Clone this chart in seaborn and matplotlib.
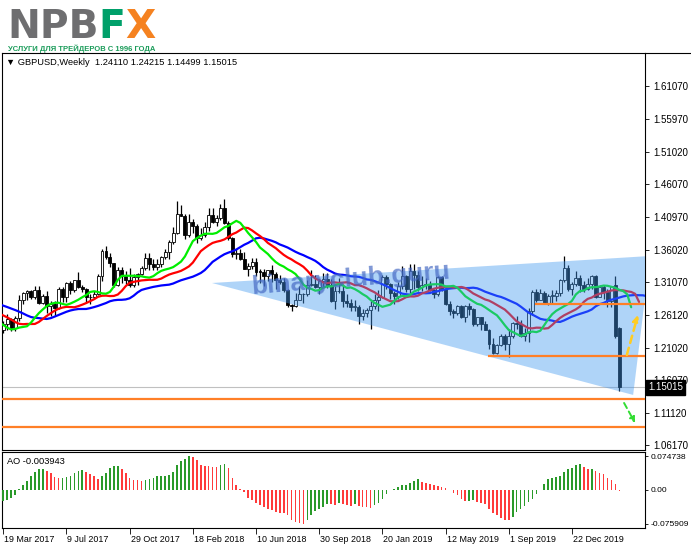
import numpy as np
import pandas as pd
import matplotlib
matplotlib.use("Agg")
import matplotlib.pyplot as plt
import seaborn as sns
from matplotlib.patches import Polygon
from matplotlib.lines import Line2D
import matplotlib.transforms as mtransforms

# ---------------- data ----------------
week_start = "2017-03-19"
n_weeks = 157
dates = pd.date_range(week_start, periods=n_weeks, freq="7D")

opens = [1.2370, 1.2470, 1.2550, 1.2410, 1.2560, 1.2830, 1.2945, 1.2970, 1.2885, 1.2995,
         1.2785, 1.2890, 1.2745, 1.2780, 1.2720, 1.3010, 1.2880, 1.3095, 1.2995, 1.3135,
         1.3040, 1.3010, 1.2875, 1.2880, 1.2925, 1.3200, 1.3590, 1.3495, 1.3395, 1.3065,
         1.3290, 1.3195, 1.3135, 1.3060, 1.3190, 1.3240, 1.3330, 1.3475, 1.3380, 1.3340,
         1.3380, 1.3500, 1.3565, 1.3720, 1.3860, 1.4150, 1.4125, 1.3825, 1.4020, 1.3970,
         1.3790, 1.3830, 1.3950, 1.4135, 1.4020, 1.4090, 1.4240, 1.4010, 1.3780, 1.3545,
         1.3550, 1.3465, 1.3310, 1.3360, 1.3410, 1.3270, 1.3265, 1.3200, 1.3290, 1.3230,
         1.3140, 1.3115, 1.2995, 1.2760, 1.2745, 1.2840, 1.2920, 1.2920, 1.3070, 1.3075,
         1.3030, 1.3125, 1.3150, 1.3060, 1.2825, 1.2970, 1.2975, 1.2825, 1.2790, 1.2730,
         1.2730, 1.2585, 1.2640, 1.2680, 1.2740, 1.2835, 1.2885, 1.3190, 1.3075, 1.2940,
         1.2895, 1.3050, 1.3200, 1.3005, 1.3285, 1.3210, 1.3030, 1.3070, 1.3080, 1.2990,
         1.2925, 1.3185, 1.3000, 1.2780, 1.2665, 1.2630, 1.2740, 1.2580, 1.2740, 1.2695,
         1.2470, 1.2570, 1.2470, 1.2375, 1.2165, 1.2030, 1.2150, 1.2280, 1.2160, 1.2290,
         1.2480, 1.2470, 1.2290, 1.2330, 1.2670, 1.2960, 1.2830, 1.2940, 1.2780, 1.2900,
         1.2900, 1.2935, 1.3140, 1.3330, 1.3010, 1.3080, 1.3170, 1.3070, 1.3010, 1.3080,
         1.3200, 1.2880, 1.3040, 1.2960, 1.2820, 1.3060, 1.24110]

highs = [1.2510, 1.2615, 1.2555, 1.2590, 1.2905, 1.2950, 1.2990, 1.2990, 1.3045, 1.3045,
         1.2930, 1.2975, 1.2815, 1.2815, 1.3030, 1.3030, 1.3115, 1.3125, 1.3145, 1.3270,
         1.3065, 1.3020, 1.2920, 1.2980, 1.3225, 1.3615, 1.3655, 1.3550, 1.3405, 1.3340,
         1.3335, 1.3285, 1.3320, 1.3225, 1.3245, 1.3360, 1.3550, 1.3550, 1.3460, 1.3455,
         1.3505, 1.3615, 1.3745, 1.3945, 1.4345, 1.4285, 1.4150, 1.4145, 1.4070, 1.4000,
         1.3930, 1.4030, 1.4245, 1.4245, 1.4130, 1.4300, 1.4377, 1.4040, 1.3800, 1.3620,
         1.3610, 1.3570, 1.3395, 1.3475, 1.3475, 1.3315, 1.3315, 1.3290, 1.3365, 1.3270,
         1.3215, 1.3175, 1.3005, 1.2780, 1.2935, 1.3045, 1.2945, 1.3140, 1.3300, 1.3215,
         1.3150, 1.3255, 1.3255, 1.3150, 1.3045, 1.3175, 1.3075, 1.2930, 1.2850, 1.2840,
         1.2765, 1.2700, 1.2710, 1.2815, 1.2930, 1.2990, 1.3215, 1.3215, 1.3100, 1.2980,
         1.3110, 1.3350, 1.3210, 1.3380, 1.3380, 1.3275, 1.3205, 1.3165, 1.3120, 1.3005,
         1.3195, 1.3195, 1.3040, 1.2815, 1.2690, 1.2765, 1.2760, 1.2760, 1.2785, 1.2710,
         1.2580, 1.2575, 1.2520, 1.2390, 1.2250, 1.2160, 1.2310, 1.2310, 1.2385, 1.2505,
         1.2585, 1.2530, 1.2410, 1.2710, 1.2990, 1.3010, 1.3010, 1.2975, 1.2925, 1.2990,
         1.2985, 1.3155, 1.3515, 1.3375, 1.3115, 1.3285, 1.3210, 1.3120, 1.3175, 1.3210,
         1.3210, 1.3070, 1.3070, 1.3010, 1.3055, 1.3200, 1.24215]

lows = [1.2330, 1.2380, 1.2365, 1.2365, 1.2515, 1.2775, 1.2840, 1.2845, 1.2855, 1.2770,
        1.2770, 1.2635, 1.2590, 1.2590, 1.2695, 1.2810, 1.2810, 1.2930, 1.2950, 1.3020,
        1.2955, 1.2810, 1.2775, 1.2845, 1.2910, 1.3125, 1.3455, 1.3340, 1.3030, 1.3055,
        1.3090, 1.3080, 1.3035, 1.3040, 1.3060, 1.3215, 1.3300, 1.3300, 1.3300, 1.3300,
        1.3340, 1.3460, 1.3455, 1.3690, 1.3840, 1.4115, 1.3765, 1.3800, 1.3855, 1.3710,
        1.3745, 1.3800, 1.3890, 1.4010, 1.3965, 1.4055, 1.4000, 1.3750, 1.3485, 1.3460,
        1.3445, 1.3305, 1.3205, 1.3305, 1.3205, 1.3100, 1.3050, 1.3130, 1.3105, 1.3010,
        1.3080, 1.2955, 1.2725, 1.2660, 1.2725, 1.2830, 1.2785, 1.2900, 1.3045, 1.3025,
        1.2920, 1.3030, 1.3020, 1.2800, 1.2695, 1.2945, 1.2725, 1.2725, 1.2660, 1.2660,
        1.2475, 1.2530, 1.2580, 1.2395, 1.2695, 1.2670, 1.2865, 1.3000, 1.2850, 1.2775,
        1.2855, 1.3010, 1.2960, 1.2945, 1.3005, 1.2980, 1.2975, 1.3000, 1.2965, 1.2865,
        1.2900, 1.2965, 1.2765, 1.2605, 1.2560, 1.2610, 1.2560, 1.2505, 1.2610, 1.2440,
        1.2440, 1.2380, 1.2370, 1.2080, 1.2015, 1.2015, 1.2135, 1.2070, 1.1960, 1.2250,
        1.2385, 1.2270, 1.2205, 1.2195, 1.2600, 1.2805, 1.2830, 1.2770, 1.2765, 1.2770,
        1.2820, 1.2895, 1.3110, 1.2975, 1.2905, 1.3050, 1.2955, 1.2955, 1.2990, 1.3010,
        1.2870, 1.2875, 1.2850, 1.2725, 1.2725, 1.2255, 1.14499]

closes = [1.2470, 1.2550, 1.2410, 1.2560, 1.2830, 1.2945, 1.2970, 1.2885, 1.2995, 1.2785,
          1.2890, 1.2745, 1.2780, 1.2720, 1.3010, 1.2880, 1.3095, 1.2995, 1.3135, 1.3040,
          1.3010, 1.2875, 1.2880, 1.2925, 1.3200, 1.3590, 1.3495, 1.3395, 1.3065, 1.3290,
          1.3195, 1.3135, 1.3060, 1.3190, 1.3240, 1.3330, 1.3475, 1.3380, 1.3340, 1.3380,
          1.3500, 1.3565, 1.3720, 1.3860, 1.4150, 1.4125, 1.3825, 1.4020, 1.3970, 1.3790,
          1.3830, 1.3950, 1.4135, 1.4020, 1.4090, 1.4240, 1.4010, 1.3780, 1.3545, 1.3550,
          1.3465, 1.3310, 1.3360, 1.3410, 1.3270, 1.3265, 1.3200, 1.3290, 1.3230, 1.3140,
          1.3115, 1.2995, 1.2760, 1.2745, 1.2840, 1.2920, 1.2920, 1.3070, 1.3075, 1.3030,
          1.3125, 1.3150, 1.3060, 1.2825, 1.2970, 1.2975, 1.2825, 1.2790, 1.2730, 1.2730,
          1.2585, 1.2640, 1.2680, 1.2740, 1.2835, 1.2885, 1.3190, 1.3075, 1.2940, 1.2895,
          1.3050, 1.3200, 1.3005, 1.3285, 1.3210, 1.3030, 1.3070, 1.3080, 1.2990, 1.2925,
          1.3185, 1.3000, 1.2780, 1.2665, 1.2630, 1.2740, 1.2580, 1.2740, 1.2695, 1.2470,
          1.2570, 1.2470, 1.2375, 1.2165, 1.2030, 1.2150, 1.2280, 1.2160, 1.2290, 1.2480,
          1.2470, 1.2290, 1.2330, 1.2670, 1.2960, 1.2830, 1.2940, 1.2780, 1.2900, 1.2900,
          1.2935, 1.3140, 1.3330, 1.3010, 1.3080, 1.3170, 1.3070, 1.3010, 1.3080, 1.3200,
          1.2880, 1.3040, 1.2960, 1.2820, 1.3045, 1.2280, 1.15015]

# weekly median prices before the visible window (warm-up of the Alligator lines)
pre_median = [1.312, 1.318, 1.326, 1.318, 1.305, 1.298, 1.270, 1.262, 1.268, 1.270,
              1.274, 1.278, 1.272, 1.268, 1.275, 1.280, 1.276, 1.266, 1.262, 1.258,
              1.254, 1.256, 1.250, 1.246, 1.244, 1.240, 1.236, 1.230, 1.224, 1.228]

ao_values = [-0.0250, -0.0220, -0.0180, -0.0130, 0.0005, 0.0097, 0.0187, 0.0299, 0.0396, 0.0456,
             0.0458, 0.0418, 0.0381, 0.0284, 0.0261, 0.0263, 0.0276, 0.0306, 0.0366, 0.0418,
             0.0433, 0.0396, 0.0344, 0.0299, 0.0247, 0.0306, 0.0381, 0.0493, 0.0538, 0.0540,
             0.0471, 0.0366, 0.0269, 0.0224, 0.0209, 0.0187, 0.0209, 0.0239, 0.0261, 0.0299,
             0.0314, 0.0316, 0.0329, 0.0396, 0.0545, 0.0642, 0.0695, 0.074738, 0.0735, 0.0657,
             0.0560, 0.0523, 0.0520, 0.0518, 0.0515, 0.0560, 0.0565, 0.0493, 0.0260, 0.0105,
             0.0022, -0.0052, -0.0180, -0.0224, -0.0300, -0.0350, -0.0396, -0.0426, -0.0448, -0.0508,
             -0.0515, -0.0530, -0.0575, -0.0687, -0.0725, -0.0740, -0.075909, -0.0687, -0.0575, -0.0478,
             -0.0440, -0.0380, -0.0320, -0.0330, -0.0350, -0.0290, -0.0330, -0.0350, -0.0355, -0.0330,
             -0.0370, -0.0390, -0.0395, -0.0400, -0.0350, -0.0290, -0.0200, -0.0100, -0.0003, 0.0020,
             0.0070, 0.0100, 0.0105, 0.0140, 0.0190, 0.0230, 0.0180, 0.0160, 0.0130, 0.0100,
             0.0075, 0.0050, 0.0035, -0.0010, -0.0075, -0.0130, -0.0200, -0.0260, -0.0250, -0.0240,
             -0.0280, -0.0300, -0.0330, -0.0430, -0.0520, -0.0575, -0.0630, -0.0670, -0.0680, -0.0610,
             -0.0500, -0.0430, -0.0370, -0.0280, -0.0200, -0.0100, -0.0005, 0.0120, 0.0230, 0.0260,
             0.0280, 0.0310, 0.0400, 0.0460, 0.0490, 0.0550, 0.0570, 0.0500, 0.0460, 0.0465,
             0.0410, 0.0370, 0.0340, 0.0270, 0.0220, 0.0130, -0.003943]

price_ticks = [1.61070, 1.55970, 1.51020, 1.46070, 1.40970, 1.36020,
               1.31070, 1.26120, 1.21020, 1.16070, 1.11120, 1.06170]
ao_ticks = [0.074738, 0.0, -0.075909]
ao_tick_labels = ["0.074738", "0.00", "-0.075909"]
date_tick_dates = ["2017-03-19", "2017-07-09", "2017-10-29", "2018-02-18", "2018-06-10",
                   "2018-09-30", "2019-01-20", "2019-05-12", "2019-09-01", "2019-12-22"]

title_text = "\u25bc GBPUSD,Weekly  1.24110 1.24215 1.14499 1.15015"
ao_label = "AO -0.003943"
last_price = 1.15015
watermark = "binaryclub.guru"
logo_parts = [("NPB", "#6e6e70"), ("F", "#00a06a"), ("X", "#f58220")]
logo_sub = "УСЛУГИ ДЛЯ ТРЕЙДЕРОВ С 1996 ГОДА"

# drawn objects on the chart (bar index, price)
triangle_x = [52.85, 163.8, 159.5]
triangle_y = [1.3095, 1.3508, 1.1383]
level_lines = [(1.2769, 134.6), (1.1974, 122.7), (1.1321, -1.0), (1.0893, -1.0)]
arrow_up = ((157.9, 1.1994), (160.7, 1.2606))
arrow_down = ((157.2, 1.1260), (160.0, 1.0954))

# ---------------- style ----------------
sns.set_theme(style="white")
plt.rcParams["font.family"] = ["Liberation Sans", "DejaVu Sans"]
plt.rcParams["axes.linewidth"] = 0.8

W, H = 691, 549
fig = plt.figure(figsize=(W / 100, H / 100), dpi=100)
fig.patch.set_facecolor("white")


def px_rect(x0, y0, x1, y1):
    return [x0 / W, 1 - y1 / H, (x1 - x0) / W, (y1 - y0) / H]


ax = fig.add_axes(px_rect(2, 53, 645, 450))
ax_ao = fig.add_axes(px_rect(2, 452, 645, 528))
XMIN, XMAX = -0.33, 162.5

for a in (ax, ax_ao):
    a.set_facecolor("white")
    for s in a.spines.values():
        s.set_color("black")
        s.set_linewidth(0.8)
    a.set_xlim(XMIN, XMAX)

# ---------------- candles ----------------
idx = np.arange(n_weeks)
o = np.array(opens)
h = np.array(highs)
l = np.array(lows)
c = np.array(closes)
up = c >= o
ax.vlines(idx, l, h, color="black", lw=0.9, zorder=3)
ax.bar(idx, np.maximum(np.abs(c - o), 0.0006), bottom=np.minimum(o, c), width=0.74,
       color=np.where(up, "white", "black"), edgecolor="black", linewidth=0.6, zorder=3.5)

# ---------------- Alligator ----------------
median = np.concatenate([pre_median, (h + l) / 2])
xs = np.arange(len(median)) - len(pre_median)


def smma(x, n):
    out = np.full(len(x), np.nan)
    out[n - 1] = x[:n].mean()
    for k in range(n, len(x)):
        out[k] = (out[k - 1] * (n - 1) + x[k]) / n
    return out


for period, shift, col in [(13, 8, "#0000ff"), (8, 5, "#ff0000"), (5, 3, "#00ee00")]:
    vals = smma(median, period)
    ok = ~np.isnan(vals)
    sns.lineplot(x=xs[ok] + shift, y=vals[ok], ax=ax, color=col, linewidth=1.6,
                 zorder=4, sort=False)

# ---------------- overlay objects ----------------
ax.add_patch(Polygon(list(zip(triangle_x, triangle_y)), closed=True,
                     facecolor=(66 / 255, 153 / 255, 240 / 255), alpha=0.42,
                     edgecolor="none", zorder=5))
ax.text(88.0, 1.316, watermark, fontsize=19, fontweight="bold", color=(0.26, 0.40, 0.76),
        alpha=0.68, rotation=4.5, rotation_mode="anchor", ha="center", va="center", zorder=6)

for lvl, x0 in level_lines:
    ax.hlines(lvl, x0, XMAX + 2, color="#ff7f27", lw=1.6, zorder=7)
ax.axhline(last_price, color="#c0c0c0", lw=0.8, zorder=2.5)

ax.annotate("", xy=arrow_up[1], xytext=arrow_up[0],
            arrowprops=dict(arrowstyle="-|>", color="#ffcc22", lw=1.8,
                            linestyle=(0, (3, 2)), mutation_scale=9, shrinkA=0, shrinkB=0),
            zorder=8)
ax.annotate("", xy=arrow_down[1], xytext=arrow_down[0],
            arrowprops=dict(arrowstyle="-|>", color="#33dd33", lw=1.4,
                            linestyle=(0, (3, 2)), mutation_scale=8, shrinkA=0, shrinkB=0),
            zorder=8)

# ---------------- main axes ticks ----------------
ax.set_ylim(1.0541, 1.6612)
ax.yaxis.tick_right()
ax.set_yticks(price_ticks)
ax.set_yticklabels([f"{p:.5f}" for p in price_ticks])
ax.tick_params(axis="y", which="both", right=True, left=False, length=3, width=0.6,
               pad=3, labelsize=7, colors="black", direction="out")
ax.set_xticks([])
ax.set_xlabel("")
ax.set_ylabel("")

blend = mtransforms.blended_transform_factory(ax.transAxes, ax.transData)
ax.text(1 + 3 / 643, last_price, f"{last_price:.5f}", transform=blend, color="white",
        fontsize=7, va="center", ha="left", zorder=10, clip_on=False,
        bbox=dict(boxstyle="square,pad=0.25", fc="black", ec="black"))
ax.text(4 / 643, 0.975, title_text, transform=ax.transAxes, fontsize=6.7,
        va="center", ha="left", color="black", family=["Liberation Sans", "DejaVu Sans"])

# ---------------- AO panel ----------------
ao = np.array(ao_values)
ao_cols = ["#2a9a2a" if (k == 0 or ao[k] > ao[k - 1]) else "#ff3b3b" for k in range(len(ao))]
ax_ao.bar(idx, ao, width=0.42, color=ao_cols, linewidth=0, zorder=3)
ax_ao.set_ylim(-0.0857, 0.0843)
ax_ao.yaxis.tick_right()
ax_ao.set_yticks(ao_ticks)
ax_ao.set_yticklabels(ao_tick_labels)
ax_ao.tick_params(axis="y", right=True, left=False, length=2.5, width=0.6, pad=1.5,
                  labelsize=6.1, colors="black", direction="out")
tick_pos = [dates.get_loc(pd.Timestamp(d)) for d in date_tick_dates]
ax_ao.set_xticks(tick_pos)
ax_ao.set_xticklabels([f"{dates[p].day} {dates[p]:%b %Y}" for p in tick_pos], ha="left")
ax_ao.tick_params(axis="x", bottom=True, length=4, width=0.6, pad=1, labelsize=6.4,
                  colors="black", direction="out")
for lab in ax_ao.get_xticklabels():
    lab.set_transform(lab.get_transform() + mtransforms.ScaledTranslation(1 / 100, 0, fig.dpi_scale_trans))
ax_ao.text(5 / 643, 0.88, ao_label, transform=ax_ao.transAxes, fontsize=6.7,
           va="center", ha="left", color="black")

fig.add_artist(Line2D([645 / W, 1.0], [1 - 53 / H] * 2, color="black", lw=0.8))

# ---------------- logo ----------------
fig.canvas.draw()
renderer = fig.canvas.get_renderer()


def text_row(parts, x0, base, size, target_w, weight, family, stretch="normal"):
    def place(sz):
        arts, x = [], x0
        for s, col in parts:
            t = fig.text(x / W, 1 - base / H, s, fontsize=sz, color=col, weight=weight,
                         family=family, fontstretch=stretch, va="baseline", ha="left")
            bb = t.get_window_extent(renderer)
            x += bb.width
            arts.append(t)
        return arts, x - x0
    arts, w = place(size)
    for t in arts:
        t.remove()
    arts, w = place(size * target_w / w)
    return arts


text_row(logo_parts, 7, 38.3, 29, 149, "heavy", ["DejaVu Sans"])
text_row([(logo_sub, "#1b9c5a")], 8, 50.9, 6.8, 150, "bold",
         ["Noto Sans Condensed", "DejaVu Sans Condensed", "Liberation Sans Narrow",
          "Liberation Sans", "DejaVu Sans"], stretch="condensed")

fig.savefig("out.png", dpi=100, facecolor="white")
